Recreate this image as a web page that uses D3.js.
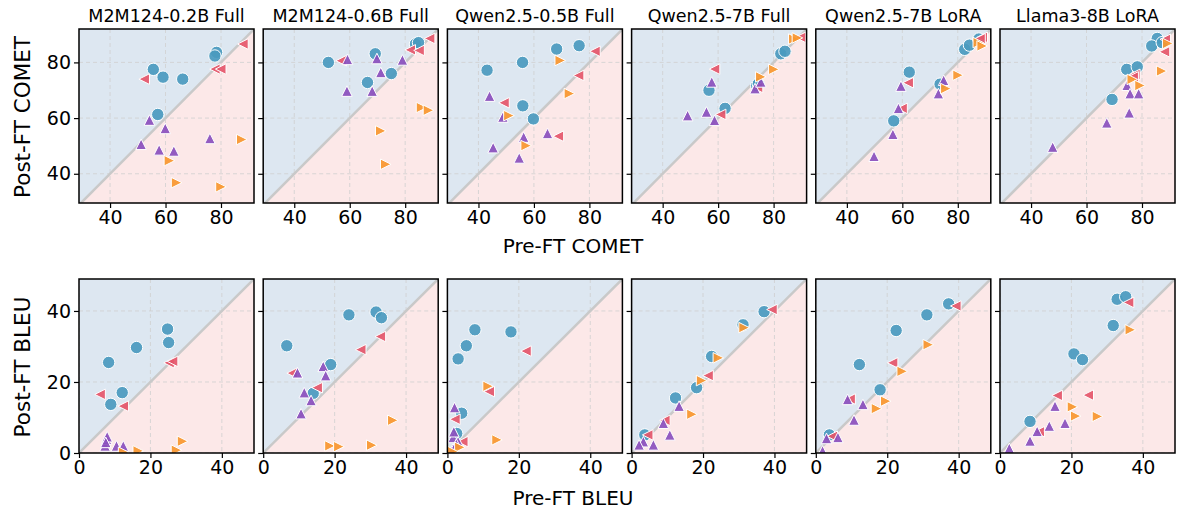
<!DOCTYPE html>
<html>
<head>
<meta charset="utf-8">
<script src="https://cdn.jsdelivr.net/npm/d3@7"></script>
<style>
  body { margin: 0; background: #fff; }
  svg { font-family: "DejaVu Sans", sans-serif; }
</style>
</head>
<body>
<div id="chart"></div>
<script>
// Panel titles
const titles = ['M2M124-0.2B Full', 'M2M124-0.6B Full', 'Qwen2.5-0.5B Full',
                'Qwen2.5-7B Full', 'Qwen2.5-7B LoRA', 'Llama3-8B LoRA'];

const cometTicks = [40, 60, 80];
const bleuTicks = [0, 20, 40];

// COMET: [pre, post] per panel, one array per marker group
const cometCircle = [
  [[78.4, 83.6], [77.8, 82.3], [55.6, 77.5], [59.1, 74.7], [66.2, 74.0], [57.2, 61.3]],
  [[83.7, 86.6], [84.8, 87.1], [52.3, 80.0], [69.2, 83.1], [75.0, 76.0], [66.4, 72.8]],
  [[76.3, 86.0], [68.2, 84.8], [55.9, 80.0], [43.1, 77.2], [56.0, 64.4], [59.8, 59.7]],
  [[82.6, 83.1], [84.1, 84.0], [56.7, 70.0], [62.5, 63.5], [73.9, 71.7], [74.5, 72.3]],
  [[82.5, 84.7], [84.2, 86.2], [62.5, 76.5], [73.6, 72.2], [56.9, 59.0], [87.6, 88.4]],
  [[85.5, 88.6], [83.5, 85.9], [87.3, 87.1], [74.5, 77.5], [78.3, 78.4], [69.2, 66.7]]
];
const cometLeft = [
  [[87.9, 86.6], [52.3, 74.0], [77.8, 77.6], [79.9, 77.6]],
  [[88.8, 88.6], [81.8, 84.5], [85.0, 84.3], [56.9, 80.6]],
  [[82.0, 84.0], [76.1, 75.3], [49.2, 65.5], [68.8, 53.5]],
  [[89.7, 89.0], [58.7, 77.6], [60.9, 61.3], [74.2, 71.0]],
  [[88.8, 89.0], [62.1, 72.7], [59.9, 63.5], [88.0, 88.5]],
  [[88.4, 88.3], [88.1, 83.8], [77.4, 75.7], [76.8, 74.8]]
];
const cometUp = [
  [[54.2, 59.3], [59.9, 56.3], [51.2, 50.6], [57.7, 48.6], [63.0, 48.2], [76.0, 52.7]],
  [[59.2, 81.1], [69.8, 81.4], [79.0, 80.9], [71.2, 76.4], [59.0, 69.7], [68.1, 69.7]],
  [[44.0, 67.9], [48.8, 60.4], [56.3, 53.2], [64.9, 54.5], [45.3, 49.4], [54.7, 45.7]],
  [[57.7, 73.0], [49.0, 60.9], [55.8, 62.2], [58.7, 59.2], [73.3, 70.6], [75.4, 73.0]],
  [[59.5, 71.5], [58.6, 63.5], [56.6, 54.2], [49.8, 46.3], [73.0, 68.8], [74.9, 73.6]],
  [[74.6, 71.8], [75.7, 68.8], [78.8, 68.8], [75.4, 61.9], [67.3, 58.3], [47.8, 49.6]]
];
const cometRight = [
  [[87.5, 52.3], [61.4, 44.7], [64.0, 36.8], [80.0, 35.3]],
  [[85.9, 63.8], [88.4, 62.8], [71.2, 55.4], [73.0, 43.4]],
  [[69.5, 80.7], [72.8, 68.8], [51.0, 60.9], [57.2, 50.1]],
  [[87.3, 88.4], [80.1, 77.5], [75.4, 74.8], [88.6, 88.8]],
  [[87.4, 87.1], [88.8, 85.9], [80.1, 75.4], [75.7, 70.6]],
  [[89.3, 86.8], [87.1, 76.9], [76.5, 73.9], [79.3, 71.7]]
];

// BLEU: [pre, post] per panel
const bleuCircle = [
  [[24.8, 34.9], [25.1, 31.1], [16.1, 29.7], [8.3, 25.5], [12.1, 17.0], [8.9, 13.7]],
  [[24.0, 38.9], [31.6, 39.7], [33.1, 38.1], [6.6, 30.2], [18.9, 24.9], [14.0, 16.8]],
  [[7.7, 34.7], [17.8, 34.1], [5.3, 30.2], [3.0, 26.5], [4.0, 11.2], [2.6, 5.5]],
  [[37.1, 39.8], [31.2, 36.1], [22.4, 27.2], [18.2, 18.4], [12.3, 15.5], [3.7, 5.1]],
  [[37.2, 42.0], [31.1, 38.9], [22.5, 34.5], [12.2, 24.9], [18.0, 17.8], [3.8, 5.1]],
  [[32.8, 43.3], [35.2, 44.0], [31.7, 35.9], [20.7, 27.9], [23.1, 26.3], [8.4, 8.9]]
];
const bleuLeft = [
  [[25.2, 25.4], [26.2, 25.8], [5.9, 16.5], [12.4, 13.2]],
  [[32.8, 32.8], [27.3, 29.1], [8.1, 22.5], [15.1, 18.4]],
  [[22.0, 28.7], [11.7, 17.3], [2.1, 9.5], [4.3, 3.2]],
  [[39.3, 40.4], [21.4, 21.8], [9.3, 9.2], [4.5, 5.1]],
  [[39.2, 41.4], [21.5, 25.4], [9.6, 15.2], [4.6, 4.7]],
  [[36.0, 42.4], [24.7, 16.3], [16.0, 16.2], [11.0, 6.0]]
];
const bleuUp = [
  [[7.3, 2.0], [7.7, 3.9], [7.9, 4.6], [10.5, 2.0], [12.4, 2.0], [7.5, 3.0]],
  [[9.6, 22.6], [16.8, 24.4], [17.5, 21.8], [11.5, 17.0], [13.4, 14.8], [10.6, 11.1]],
  [[2.0, 12.8], [1.6, 4.4], [3.0, 3.2], [1.5, 1.1], [2.5, 2.5], [1.8, 6.0]],
  [[13.3, 13.2], [8.9, 8.4], [10.7, 5.1], [6.1, 2.3], [3.3, 3.2], [2.1, 2.3]],
  [[8.9, 15.1], [13.2, 13.7], [10.7, 9.3], [6.2, 4.4], [3.0, 4.1], [1.9, 0.6]],
  [[15.4, 13.2], [18.2, 8.4], [13.8, 7.6], [10.4, 6.1], [8.4, 3.4], [2.6, 1.3]]
];
const bleuRight = [
  [[16.6, 0.6], [12.5, 0.2], [27.3, 0.8], [29.0, 3.3]],
  [[36.3, 9.2], [18.7, 2.0], [21.2, 1.8], [30.4, 2.2]],
  [[11.4, 18.8], [13.9, 3.7], [3.5, 1.6], [1.5, 0.4]],
  [[31.5, 35.3], [24.3, 26.8], [19.6, 20.4], [16.9, 10.9]],
  [[31.5, 30.5], [24.2, 23.0], [19.6, 14.6], [17.0, 12.5]],
  [[36.5, 34.7], [20.3, 13.0], [21.2, 10.4], [27.3, 10.3]]
];

const W = 1177, H = 510;
const pw = 175, ph = 174;
const lefts = d3.range(6).map(i => 79 + i * 184.2);
const colors = { circle: '#4a9abf', left: '#e5566a', up: '#8a4fbd', right: '#f8962e' };

const svg = d3.select('#chart').append('svg')
  .attr('width', W).attr('height', H);

function marker(kind) {
  const s = 5.3;
  if (kind === 'up') return `M0,${-s}L${s},${s}L${-s},${s}Z`;
  if (kind === 'left') return `M${-s},0L${s},${-s}L${s},${s}Z`;
  return `M${s},0L${-s},${-s}L${-s},${s}Z`;
}

function drawRow(top, xDomain, yDomain, ticks, groups, showTitles, rowId) {
  const x = d3.scaleLinear().domain(xDomain).range([0, pw]);
  const y = d3.scaleLinear().domain(yDomain).range([ph, 0]);

  lefts.forEach((lx, i) => {
    const g = svg.append('g').attr('transform', `translate(${lx},${top})`);
    const clipId = `clip-${rowId}-${i}`;
    g.append('clipPath').attr('id', clipId)
      .append('rect').attr('width', pw).attr('height', ph);
    const body = g.append('g').attr('clip-path', `url(#${clipId})`);

    body.append('rect').attr('width', pw).attr('height', ph).attr('fill', '#fce8e8');
    const lo = -100, hi = 200;
    body.append('path')
      .attr('d', `M${x(lo)},${y(lo)}L${x(hi)},${y(hi)}L${x(hi)},${y(hi + 300)}L${x(lo)},${y(hi + 300)}Z`)
      .attr('fill', '#dde7f1');

    // Grid
    ticks.forEach(t => {
      body.append('line').attr('x1', x(t)).attr('x2', x(t)).attr('y1', 0).attr('y2', ph)
        .attr('stroke', '#cfcfcf').attr('stroke-width', 0.8).attr('stroke-dasharray', '4,3');
      body.append('line').attr('y1', y(t)).attr('y2', y(t)).attr('x1', 0).attr('x2', pw)
        .attr('stroke', '#cfcfcf').attr('stroke-width', 0.8).attr('stroke-dasharray', '4,3');
    });

    // Diagonal
    body.append('line')
      .attr('x1', x(lo)).attr('y1', y(lo)).attr('x2', x(hi)).attr('y2', y(hi))
      .attr('stroke', '#c9c9c9').attr('stroke-width', 2.5);

    // Points
    body.selectAll('circle.pt').data(groups.circle[i]).enter().append('circle')
      .attr('cx', d => x(d[0])).attr('cy', d => y(d[1])).attr('r', 6.2)
      .attr('fill', colors.circle).attr('fill-opacity', 0.92)
      .attr('stroke', '#fff').attr('stroke-width', 1);
    ['left', 'up', 'right'].forEach(k => {
      body.selectAll(`path.pt-${k}`).data(groups[k][i]).enter().append('path')
        .attr('class', `pt-${k}`)
        .attr('transform', d => `translate(${x(d[0])},${y(d[1])})`)
        .attr('d', marker(k))
        .attr('fill', colors[k]).attr('fill-opacity', 0.92)
        .attr('stroke', '#fff').attr('stroke-width', 1);
    });

    // Axes
    const xa = g.append('g').attr('transform', `translate(0,${ph})`)
      .call(d3.axisBottom(x).tickValues(ticks).tickSize(5).tickPadding(3));
    const ya = g.append('g')
      .call(d3.axisLeft(y).tickValues(ticks).tickSize(5).tickPadding(3)
        .tickFormat(i === 0 ? d3.format('d') : ''));
    [xa, ya].forEach(a => {
      a.select('.domain').remove();
      a.selectAll('line').attr('stroke', '#000').attr('stroke-width', 1.2);
      a.selectAll('text').style('font-size', '19px').style('font-family', '"DejaVu Sans", sans-serif').attr('fill', '#000');
    });

    g.append('rect').attr('width', pw).attr('height', ph)
      .attr('fill', 'none').attr('stroke', '#000').attr('stroke-width', 1.5);

    if (showTitles) {
      g.append('text').attr('x', pw / 2).attr('y', -7)
        .attr('text-anchor', 'middle').style('font-size', '17.5px')
        .text(titles[i]);
    }
  });
}

drawRow(29, [28.8, 91.9], [29.5, 92], cometTicks,
  { circle: cometCircle, left: cometLeft, up: cometUp, right: cometRight }, true, 'c');
drawRow(279, [0, 49], [0, 49], bleuTicks,
  { circle: bleuCircle, left: bleuLeft, up: bleuUp, right: bleuRight }, false, 'b');

// Axis labels
svg.append('text').attr('x', 573).attr('y', 253).attr('text-anchor', 'middle')
  .style('font-size', '20px').text('Pre-FT COMET');
svg.append('text').attr('x', 573).attr('y', 505).attr('text-anchor', 'middle')
  .style('font-size', '20px').text('Pre-FT BLEU');
svg.append('text').attr('transform', 'translate(30,117) rotate(-90)').attr('text-anchor', 'middle')
  .style('font-size', '21.5px').text('Post-FT COMET');
svg.append('text').attr('transform', 'translate(30,367) rotate(-90)').attr('text-anchor', 'middle')
  .style('font-size', '21.5px').text('Post-FT BLEU');
</script>
</body>
</html>
